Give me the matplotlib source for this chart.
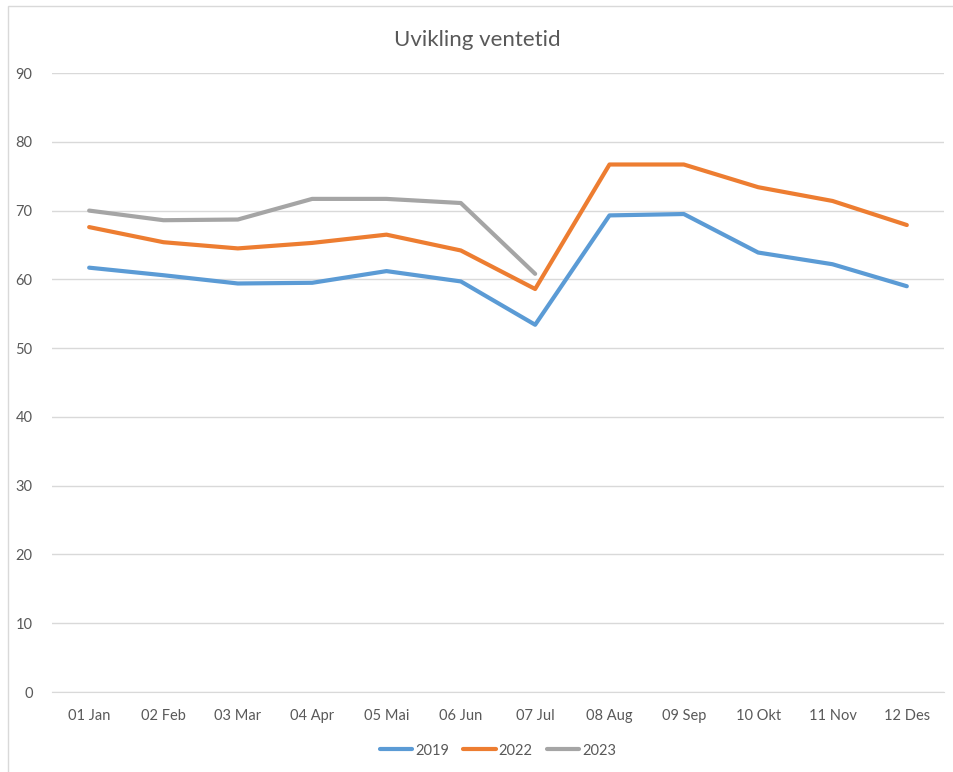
import numpy as np
import matplotlib.pyplot as plt
from matplotlib.patches import Rectangle

plt.rcParams['font.family'] = ['Lato', 'DejaVu Sans']

months = ['01 Jan', '02 Feb', '03 Mar', '04 Apr', '05 Mai', '06 Jun',
          '07 Jul', '08 Aug', '09 Sep', '10 Okt', '11 Nov', '12 Des']

v2019 = [61.7, 60.6, 59.4, 59.5, 61.2, 59.7, 53.4, 69.3, 69.5, 63.9, 62.2, 59.0]
v2022 = [67.6, 65.4, 64.5, 65.3, 66.5, 64.2, 58.6, 76.7, 76.7, 73.4, 71.4, 67.9]
v2023 = [70.0, 68.6, 68.7, 71.7, 71.7, 71.1, 60.8]

fig = plt.figure(figsize=[9.54, 7.72], dpi=100)
ax = fig.add_axes([0.0545, 0.1036, 0.935, 0.8018])

x = np.arange(len(months))
ax.plot(x, v2019, color='#5B9BD5', linewidth=3.0, label='2019', solid_capstyle='round')
ax.plot(x, v2022, color='#ED7D31', linewidth=3.0, label='2022', solid_capstyle='round')
ax.plot(x[:len(v2023)], v2023, color='#A5A5A5', linewidth=3.0, label='2023', solid_capstyle='round')

ax.set_xlim(-0.5, 11.5)
ax.set_ylim(0, 90)
ax.set_yticks(np.arange(0, 91, 10))
ax.set_xticks(x)
ax.set_xticklabels(months)
ax.grid(axis='y', color='#D9D9D9', linewidth=1.0)
ax.set_axisbelow(True)
for s in ['top', 'right', 'left']:
    ax.spines[s].set_visible(False)
ax.spines['bottom'].set_color('#D9D9D9')
ax.tick_params(axis='both', length=0, colors='#595959', labelsize=10.5)
ax.tick_params(axis='x', pad=12)
ax.tick_params(axis='y', pad=14)

fig.text(0.5, 0.948, 'Uvikling ventetid', ha='center', va='center', fontsize=16, color='#595959')

ax.legend(loc='upper center', bbox_to_anchor=(0.5, -0.062), ncol=3, frameon=False,
          fontsize=10.5, handlelength=2.2, handletextpad=0.2, columnspacing=1.0,
          labelcolor='#595959')

fig.patches.append(Rectangle((8 / 954, -0.01), 1.0, 1 - 6 / 772 + 0.01,
                             transform=fig.transFigure, fill=False,
                             edgecolor='#D9D9D9', linewidth=1.0))

fig.savefig('out.png', dpi=100)
